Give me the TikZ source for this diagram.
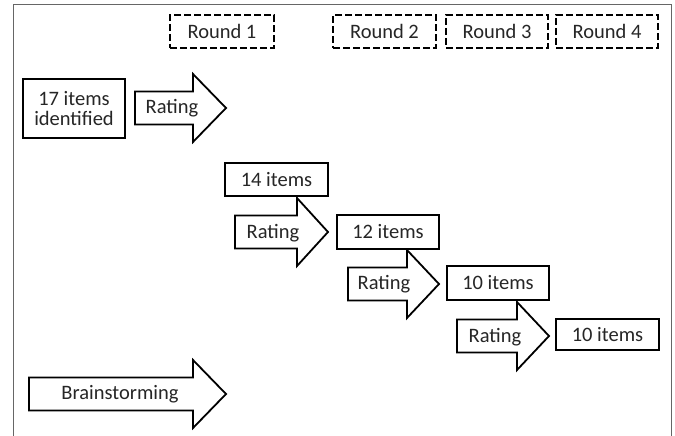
\documentclass[tikz,border=0pt]{standalone}
\usepackage{fontspec}
\setmainfont{Carlito}
\newcommand\BlkArrow[5]{% name, left x, center y, head base x, tip x
  \draw[arrowline] (#2,#3-16.5) -- (#4,#3-16.5) -- (#4,#3-34) -- (#5,#3) -- (#4,#3+34) -- (#4,#3+16.5) -- (#2,#3+16.5) -- cycle;
  \coordinate (#1) at (#2,#3);}
\begin{document}
\begin{tikzpicture}[x=1pt,y=-1pt,
  every node/.style={font=\fontsize{20.5}{23}\selectfont, text=black!85},
  solidbox/.style={draw=black, line width=1.8pt, inner sep=0pt, fill=white},
  roundbox/.style={draw=black, line width=1.8pt, dash pattern=on 7pt off 3pt, inner sep=0pt},
  arrowline/.style={draw=black, line width=1.8pt, line join=miter, fill=white},
  framel/.style={draw=black!60, line width=0.9pt}]
\useasboundingbox (0,0) rectangle (675,436);
% frame
\draw[framel] (13,436) -- (13,4) -- (671,4) -- (671,436);
% round labels
\node[roundbox, minimum width=104pt, minimum height=33pt] (r1) at (222,31.5) {Round 1};
\node[roundbox, minimum width=103pt, minimum height=33pt] (r2) at (384.5,31.5) {Round 2};
\node[roundbox, minimum width=102pt, minimum height=33pt] (r3) at (497,31.5) {Round 3};
\node[roundbox, minimum width=102pt, minimum height=33pt] (r4) at (607,31.5) {Round 4};
% arrows
\BlkArrow{a1}{135}{108}{193}{226}
\BlkArrow{a2}{235}{232}{297}{328}
\BlkArrow{a3}{348}{284}{407}{439}
\BlkArrow{a4}{457}{336}{517}{549}
\BlkArrow{a5}{29}{394}{193}{226}
\node (t1) at (172,108) {Rating};
\node (t2) at (273,233) {Rating};
\node (t3) at (384,284) {Rating};
\node (t4) at (495,337) {Rating};
\node (t5) at (120,394) {Brainstorming};
% item boxes
\node[solidbox, minimum width=102pt, minimum height=59pt, align=center] (b17) at (74,108.5) {17 items\\[-3pt]identified};
\node[solidbox, minimum width=103pt, minimum height=33pt] (b14) at (276.5,179.5) {14 items};
\node[solidbox, minimum width=102pt, minimum height=34pt] (b12) at (388,232) {12 items};
\node[solidbox, minimum width=102pt, minimum height=34pt] (b10a) at (498,283) {10 items};
\node[solidbox, minimum width=103pt, minimum height=31pt] (b10b) at (607.5,334.5) {10 items};
\end{tikzpicture}
\end{document}
